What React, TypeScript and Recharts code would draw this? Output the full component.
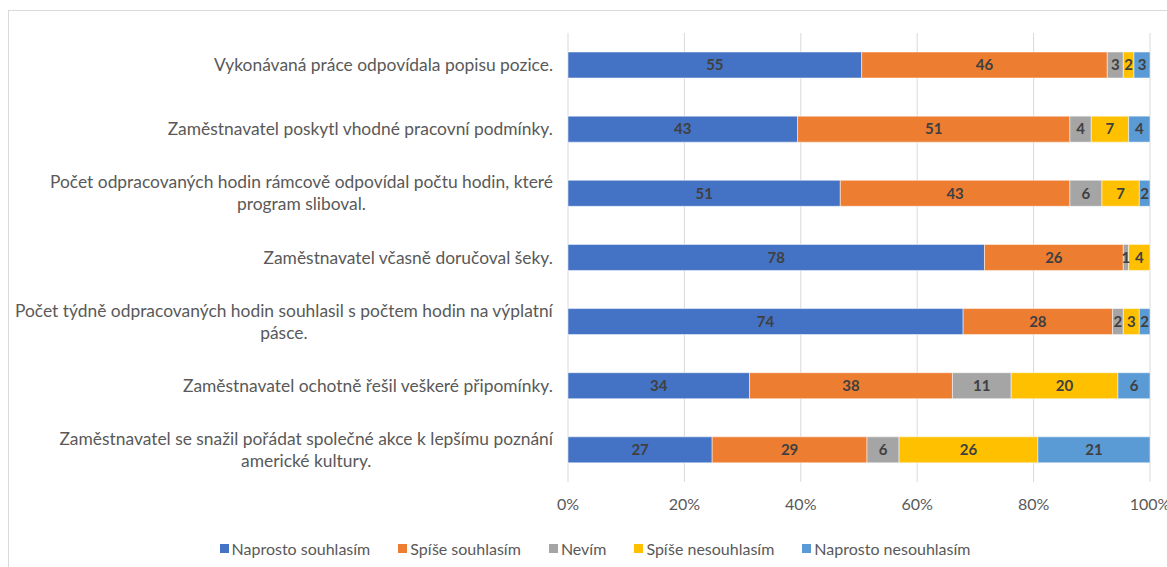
import React from 'react';
import {
  BarChart,
  Bar,
  XAxis,
  YAxis,
  CartesianGrid,
  Legend,
  LabelList,
} from 'recharts';

// category labels, already broken into lines the way the chart wraps them
const categories: string[][] = [
  ['Vykonávaná práce odpovídala popisu pozice.'],
  ['Zaměstnavatel poskytl vhodné pracovní podmínky.'],
  ['Počet odpracovaných hodin rámcově odpovídal počtu hodin, které', 'program sliboval.'],
  ['Zaměstnavatel včasně doručoval šeky.'],
  ['Počet týdně odpracovaných hodin souhlasil s počtem hodin na výplatní', 'pásce.'],
  ['Zaměstnavatel ochotně řešil veškeré připomínky.'],
  ['Zaměstnavatel se snažil pořádat společné akce k lepšímu poznání', 'americké kultury.'],
];

const naprostoSouhlasim = [55, 43, 51, 78, 74, 34, 27];
const spiseSouhlasim = [46, 51, 43, 26, 28, 38, 29];
const nevim = [3, 4, 6, 1, 2, 11, 6];
const spiseNesouhlasim = [2, 7, 7, 4, 3, 20, 26];
const naprostoNesouhlasim = [3, 4, 2, 0, 2, 6, 21];

const xTicks = [0, 0.2, 0.4, 0.6, 0.8, 1];

const series = [
  { key: 'a', name: 'Naprosto souhlasím', color: '#4472C4', values: naprostoSouhlasim },
  { key: 'b', name: 'Spíše souhlasím', color: '#ED7D31', values: spiseSouhlasim },
  { key: 'c', name: 'Nevím', color: '#A5A5A5', values: nevim },
  { key: 'd', name: 'Spíše nesouhlasím', color: '#FFC000', values: spiseNesouhlasim },
  { key: 'e', name: 'Naprosto nesouhlasím', color: '#5B9BD5', values: naprostoNesouhlasim },
];

const FONT = 'Lato, "Open Sans", sans-serif';
const TEXT = '#595959';
const CAT_SIZE = 17.4;
const CHART_W = 1172;

const data = categories.map((lines, i) => {
  const row: any = { label: lines.join(' '), lines };
  series.forEach((s) => {
    row[s.key] = s.values[i];
  });
  return row;
});

const linesByLabel: Record<string, string[]> = {};
data.forEach((d) => {
  linesByLabel[d.label] = d.lines;
});

let ctx: CanvasRenderingContext2D | null = null;
const measure = (text: string) => {
  if (!ctx) ctx = document.createElement('canvas').getContext('2d');
  if (!ctx) return text.length * 8;
  ctx.font = `${CAT_SIZE}px ${FONT}`;
  return ctx.measureText(text).width;
};

const CategoryTick = ({ x, y, payload }: any) => {
  const lines = linesByLabel[payload.value] || [payload.value];
  const right = x - 7;
  const widest = Math.max(...lines.map(measure));
  const cx = right - widest / 2;
  const lineH = 22;
  const startY = y - ((lines.length - 1) * lineH) / 2;
  return (
    <text x={cx} y={startY} textAnchor="middle" fill={TEXT} fontSize={CAT_SIZE} fontFamily={FONT}>
      {lines.map((l: string, i: number) => (
        <tspan key={i} x={cx} y={startY + i * lineH} dy="0.35em">
          {l}
        </tspan>
      ))}
    </text>
  );
};

const LegendContent = () => (
  <div
    style={{
      display: 'flex',
      justifyContent: 'center',
      alignItems: 'center',
      height: 24,
      fontFamily: FONT,
      fontSize: 16,
      color: TEXT,
    }}
  >
    {series.map((s) => (
      <div key={s.key} style={{ display: 'flex', alignItems: 'center', margin: '0 14px' }}>
        <span style={{ width: 9, height: 9, background: s.color, marginRight: 3 }} />
        <span>{s.name}</span>
      </div>
    ))}
  </div>
);

export default function App() {
  return (
    <div
      style={{
        position: 'fixed',
        left: 0,
        top: 0,
        width: 1167,
        height: 567,
        overflow: 'hidden',
        background: '#fff',
      }}
    >
      <div
        style={{
          position: 'absolute',
          left: 8,
          top: 10,
          width: CHART_W,
          height: 572,
          border: '1px solid #d9d9d9',
          background: '#fff',
          fontFamily: FONT,
        }}
      >
        <BarChart
          width={CHART_W}
          height={572}
          data={data}
          layout="vertical"
          stackOffset="expand"
          barSize={26}
          margin={{ top: 22, right: 31, left: 0, bottom: 23 }}
        >
          <CartesianGrid horizontal={false} stroke="#d9d9d9" />
          <XAxis
            type="number"
            domain={[0, 1]}
            ticks={xTicks}
            tickFormatter={(v) => `${Math.round(v * 100)}%`}
            axisLine={false}
            tickLine={false}
            tickMargin={11}
            height={54}
            tick={{ fill: TEXT, fontSize: 16, fontFamily: FONT }}
          />
          <YAxis
            type="category"
            dataKey="label"
            width={559}
            axisLine={false}
            tickLine={false}
            interval={0}
            tick={<CategoryTick />}
          />
          <Legend
            verticalAlign="bottom"
            content={<LegendContent />}
            wrapperStyle={{ left: 0, width: CHART_W }}
          />
          {series.map((s) => (
            <Bar
              key={s.key}
              dataKey={s.key}
              name={s.name}
              stackId="all"
              fill={s.color}
              stroke="#ffffff"
              strokeWidth={0.5}
              isAnimationActive={false}
            >
              <LabelList
                dataKey={s.key}
                position="center"
                fill="#404040"
                fontSize={15}
                fontWeight="bold"
                fontFamily={FONT}
                formatter={(v: any) => (v ? v : '')}
              />
            </Bar>
          ))}
        </BarChart>
      </div>
    </div>
  );
}
